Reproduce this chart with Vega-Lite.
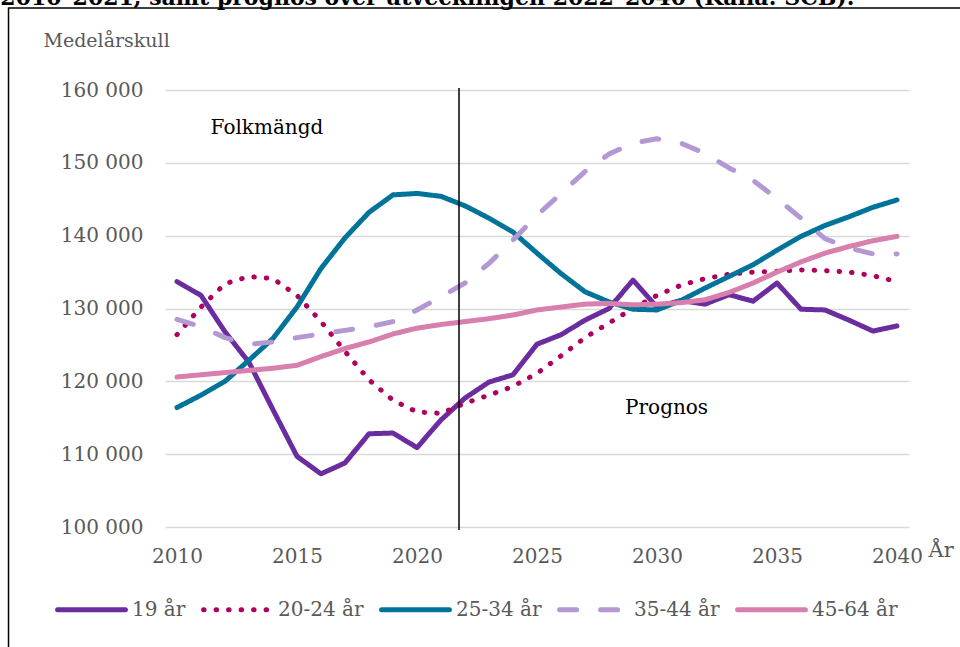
{
  "$schema": "https://vega.github.io/schema/vega-lite/v6.json",
  "width": 744,
  "height": 437,
  "autosize": {"type": "none"},
  "padding": {"left": 165, "top": 90, "right": 51, "bottom": 120},
  "background": "white",
  "config": {
    "view": {"stroke": null},
    "font": "DejaVu Serif",
    "axis": {"labelFont": "DejaVu Serif", "titleFont": "DejaVu Serif"}
  },
  "datasets": {
    "series": [
      {"year": 2010, "group": "19 år", "value": 133700},
      {"year": 2011, "group": "19 år", "value": 131800},
      {"year": 2012, "group": "19 år", "value": 126800},
      {"year": 2013, "group": "19 år", "value": 122600},
      {"year": 2014, "group": "19 år", "value": 116100},
      {"year": 2015, "group": "19 år", "value": 109700},
      {"year": 2016, "group": "19 år", "value": 107300},
      {"year": 2017, "group": "19 år", "value": 108800},
      {"year": 2018, "group": "19 år", "value": 112800},
      {"year": 2019, "group": "19 år", "value": 112900},
      {"year": 2020, "group": "19 år", "value": 110900},
      {"year": 2021, "group": "19 år", "value": 114700},
      {"year": 2022, "group": "19 år", "value": 117700},
      {"year": 2023, "group": "19 år", "value": 119900},
      {"year": 2024, "group": "19 år", "value": 120900},
      {"year": 2025, "group": "19 år", "value": 125100},
      {"year": 2026, "group": "19 år", "value": 126400},
      {"year": 2027, "group": "19 år", "value": 128400},
      {"year": 2028, "group": "19 år", "value": 130000},
      {"year": 2029, "group": "19 år", "value": 133900},
      {"year": 2030, "group": "19 år", "value": 130200},
      {"year": 2031, "group": "19 år", "value": 131100},
      {"year": 2032, "group": "19 år", "value": 130600},
      {"year": 2033, "group": "19 år", "value": 131900},
      {"year": 2034, "group": "19 år", "value": 131000},
      {"year": 2035, "group": "19 år", "value": 133500},
      {"year": 2036, "group": "19 år", "value": 129900},
      {"year": 2037, "group": "19 år", "value": 129800},
      {"year": 2038, "group": "19 år", "value": 128400},
      {"year": 2039, "group": "19 år", "value": 126900},
      {"year": 2040, "group": "19 år", "value": 127600},
      {"year": 2010, "group": "20-24 år", "value": 126400},
      {"year": 2011, "group": "20-24 år", "value": 130200},
      {"year": 2012, "group": "20-24 år", "value": 133400},
      {"year": 2013, "group": "20-24 år", "value": 134400},
      {"year": 2014, "group": "20-24 år", "value": 134100},
      {"year": 2015, "group": "20-24 år", "value": 131800},
      {"year": 2016, "group": "20-24 år", "value": 128200},
      {"year": 2017, "group": "20-24 år", "value": 124100},
      {"year": 2018, "group": "20-24 år", "value": 120200},
      {"year": 2019, "group": "20-24 år", "value": 117400},
      {"year": 2020, "group": "20-24 år", "value": 115800},
      {"year": 2021, "group": "20-24 år", "value": 115600},
      {"year": 2022, "group": "20-24 år", "value": 117000},
      {"year": 2023, "group": "20-24 år", "value": 118100},
      {"year": 2024, "group": "20-24 år", "value": 119300},
      {"year": 2025, "group": "20-24 år", "value": 121100},
      {"year": 2026, "group": "20-24 år", "value": 123500},
      {"year": 2027, "group": "20-24 år", "value": 126000},
      {"year": 2028, "group": "20-24 år", "value": 128000},
      {"year": 2029, "group": "20-24 år", "value": 130000},
      {"year": 2030, "group": "20-24 år", "value": 131800},
      {"year": 2031, "group": "20-24 år", "value": 133200},
      {"year": 2032, "group": "20-24 år", "value": 134100},
      {"year": 2033, "group": "20-24 år", "value": 134700},
      {"year": 2034, "group": "20-24 år", "value": 135000},
      {"year": 2035, "group": "20-24 år", "value": 135100},
      {"year": 2036, "group": "20-24 år", "value": 135300},
      {"year": 2037, "group": "20-24 år", "value": 135200},
      {"year": 2038, "group": "20-24 år", "value": 135000},
      {"year": 2039, "group": "20-24 år", "value": 134500},
      {"year": 2040, "group": "20-24 år", "value": 133700},
      {"year": 2010, "group": "25-34 år", "value": 116400},
      {"year": 2011, "group": "25-34 år", "value": 118100},
      {"year": 2012, "group": "25-34 år", "value": 120000},
      {"year": 2013, "group": "25-34 år", "value": 122900},
      {"year": 2014, "group": "25-34 år", "value": 125900},
      {"year": 2015, "group": "25-34 år", "value": 130200},
      {"year": 2016, "group": "25-34 år", "value": 135500},
      {"year": 2017, "group": "25-34 år", "value": 139700},
      {"year": 2018, "group": "25-34 år", "value": 143200},
      {"year": 2019, "group": "25-34 år", "value": 145600},
      {"year": 2020, "group": "25-34 år", "value": 145800},
      {"year": 2021, "group": "25-34 år", "value": 145400},
      {"year": 2022, "group": "25-34 år", "value": 144100},
      {"year": 2023, "group": "25-34 år", "value": 142400},
      {"year": 2024, "group": "25-34 år", "value": 140500},
      {"year": 2025, "group": "25-34 år", "value": 137600},
      {"year": 2026, "group": "25-34 år", "value": 134800},
      {"year": 2027, "group": "25-34 år", "value": 132300},
      {"year": 2028, "group": "25-34 år", "value": 130900},
      {"year": 2029, "group": "25-34 år", "value": 129900},
      {"year": 2030, "group": "25-34 år", "value": 129800},
      {"year": 2031, "group": "25-34 år", "value": 131100},
      {"year": 2032, "group": "25-34 år", "value": 132800},
      {"year": 2033, "group": "25-34 år", "value": 134400},
      {"year": 2034, "group": "25-34 år", "value": 136000},
      {"year": 2035, "group": "25-34 år", "value": 138000},
      {"year": 2036, "group": "25-34 år", "value": 139900},
      {"year": 2037, "group": "25-34 år", "value": 141400},
      {"year": 2038, "group": "25-34 år", "value": 142600},
      {"year": 2039, "group": "25-34 år", "value": 143900},
      {"year": 2040, "group": "25-34 år", "value": 144900},
      {"year": 2010, "group": "35-44 år", "value": 128500},
      {"year": 2011, "group": "35-44 år", "value": 127500},
      {"year": 2012, "group": "35-44 år", "value": 126000},
      {"year": 2013, "group": "35-44 år", "value": 125100},
      {"year": 2014, "group": "35-44 år", "value": 125400},
      {"year": 2015, "group": "35-44 år", "value": 126000},
      {"year": 2016, "group": "35-44 år", "value": 126500},
      {"year": 2017, "group": "35-44 år", "value": 127000},
      {"year": 2018, "group": "35-44 år", "value": 127500},
      {"year": 2019, "group": "35-44 år", "value": 128200},
      {"year": 2020, "group": "35-44 år", "value": 129800},
      {"year": 2021, "group": "35-44 år", "value": 131600},
      {"year": 2022, "group": "35-44 år", "value": 133500},
      {"year": 2023, "group": "35-44 år", "value": 136200},
      {"year": 2024, "group": "35-44 år", "value": 139400},
      {"year": 2025, "group": "35-44 år", "value": 142800},
      {"year": 2026, "group": "35-44 år", "value": 145800},
      {"year": 2027, "group": "35-44 år", "value": 148800},
      {"year": 2028, "group": "35-44 år", "value": 151200},
      {"year": 2029, "group": "35-44 år", "value": 152700},
      {"year": 2030, "group": "35-44 år", "value": 153300},
      {"year": 2031, "group": "35-44 år", "value": 152700},
      {"year": 2032, "group": "35-44 år", "value": 151300},
      {"year": 2033, "group": "35-44 år", "value": 149300},
      {"year": 2034, "group": "35-44 år", "value": 147600},
      {"year": 2035, "group": "35-44 år", "value": 145100},
      {"year": 2036, "group": "35-44 år", "value": 142400},
      {"year": 2037, "group": "35-44 år", "value": 139600},
      {"year": 2038, "group": "35-44 år", "value": 138300},
      {"year": 2039, "group": "35-44 år", "value": 137500},
      {"year": 2040, "group": "35-44 år", "value": 137500},
      {"year": 2010, "group": "45-64 år", "value": 120600},
      {"year": 2011, "group": "45-64 år", "value": 120900},
      {"year": 2012, "group": "45-64 år", "value": 121200},
      {"year": 2013, "group": "45-64 år", "value": 121500},
      {"year": 2014, "group": "45-64 år", "value": 121800},
      {"year": 2015, "group": "45-64 år", "value": 122200},
      {"year": 2016, "group": "45-64 år", "value": 123400},
      {"year": 2017, "group": "45-64 år", "value": 124500},
      {"year": 2018, "group": "45-64 år", "value": 125400},
      {"year": 2019, "group": "45-64 år", "value": 126500},
      {"year": 2020, "group": "45-64 år", "value": 127300},
      {"year": 2021, "group": "45-64 år", "value": 127800},
      {"year": 2022, "group": "45-64 år", "value": 128200},
      {"year": 2023, "group": "45-64 år", "value": 128600},
      {"year": 2024, "group": "45-64 år", "value": 129100},
      {"year": 2025, "group": "45-64 år", "value": 129800},
      {"year": 2026, "group": "45-64 år", "value": 130200},
      {"year": 2027, "group": "45-64 år", "value": 130600},
      {"year": 2028, "group": "45-64 år", "value": 130700},
      {"year": 2029, "group": "45-64 år", "value": 130500},
      {"year": 2030, "group": "45-64 år", "value": 130600},
      {"year": 2031, "group": "45-64 år", "value": 130800},
      {"year": 2032, "group": "45-64 år", "value": 131200},
      {"year": 2033, "group": "45-64 år", "value": 132200},
      {"year": 2034, "group": "45-64 år", "value": 133500},
      {"year": 2035, "group": "45-64 år", "value": 135000},
      {"year": 2036, "group": "45-64 år", "value": 136400},
      {"year": 2037, "group": "45-64 år", "value": 137600},
      {"year": 2038, "group": "45-64 år", "value": 138500},
      {"year": 2039, "group": "45-64 år", "value": 139300},
      {"year": 2040, "group": "45-64 år", "value": 139900}
    ],
    "notes": [
      {"year": 2011.4, "value": 154800, "label": "Folkmängd"},
      {"year": 2028.67, "value": 116300, "label": "Prognos"}
    ]
  },
  "layer": [
    {
      "data": {"values": [{}]},
      "mark": {"type": "rect", "fill": null, "stroke": "black", "strokeWidth": 1.5, "clip": false},
      "encoding": {
        "x": {"datum": 2002.98, "type": "quantitative", "scale": {"domain": [2009.5, 2040.5], "nice": false, "zero": false}},
        "x2": {"datum": 2046},
        "y": {"datum": 171260, "type": "quantitative", "scale": {"domain": [100000, 160000], "nice": false, "zero": false}},
        "y2": {"datum": 80000}
      }
    },
    {
      "data": {"values": [{}]},
      "mark": {"type": "text", "align": "left", "baseline": "alphabetic", "fontSize": 22, "fontWeight": "bold", "color": "black", "font": "DejaVu Serif", "clip": false},
      "encoding": {
        "x": {"datum": 2002.64, "type": "quantitative"},
        "y": {"datum": 171670, "type": "quantitative"},
        "text": {"value": "2010–2021, samt prognos över utvecklingen 2022–2040 (Källa: SCB)."}
      }
    },
    {
      "data": {"name": "series"},
      "mark": {"type": "line", "strokeWidth": 5, "strokeCap": "round", "strokeJoin": "round"},
      "encoding": {
        "x": {
          "field": "year", "type": "quantitative",
          "scale": {"domain": [2009.5, 2040.5], "nice": false, "zero": false},
          "axis": {
            "values": [2010, 2015, 2020, 2025, 2030, 2035, 2040],
            "format": "d",
            "grid": false, "domain": false, "ticks": false,
            "labelFontSize": 20, "labelColor": "#595959", "labelPadding": 19,
            "title": "År", "titleFontSize": 21, "titleFontWeight": "normal", "titleColor": "#595959",
            "titleAnchor": "start", "titleAlign": "left", "titleBaseline": "alphabetic",
            "titleX": 763, "titleY": 29
          }
        },
        "y": {
          "field": "value", "type": "quantitative",
          "scale": {"domain": [100000, 160000], "nice": false, "zero": false},
          "axis": {
            "values": [100000, 110000, 120000, 130000, 140000, 150000, 160000],
            "labelExpr": "replace(format(datum.value, ','), ',', ' ')",
            "grid": true, "gridColor": "#D9D9D9", "gridWidth": 1.5,
            "domain": false, "ticks": false,
            "labelFontSize": 20, "labelColor": "#595959", "labelPadding": 22,
            "title": "Medelårskull", "titleFontSize": 19, "titleFontWeight": "normal", "titleColor": "#595959",
            "titleAngle": 0, "titleAnchor": "start", "titleAlign": "left", "titleBaseline": "middle",
            "titleX": -122, "titleY": -50
          }
        },
        "color": {
          "field": "group", "type": "nominal",
          "scale": {
            "domain": ["19 år", "20-24 år", "25-34 år", "35-44 år", "45-64 år"],
            "range": ["#6A2C9F", "#B0005E", "#00739A", "#B398D3", "#D97FAD"]
          },
          "legend": {
            "title": null, "orient": "none", "direction": "horizontal",
            "legendX": -110, "legendY": 483,
            "symbolType": "stroke", "symbolSize": 4600, "symbolStrokeWidth": 5,
            "labelFontSize": 20, "labelColor": "#595959", "labelOffset": 4,
            "columnPadding": 7,
            "encode": {"symbols": {"update": {"strokeCap": {"value": "round"}}}}
          }
        },
        "strokeDash": {
          "field": "group", "type": "nominal",
          "scale": {
            "domain": ["19 år", "20-24 år", "25-34 år", "35-44 år", "45-64 år"],
            "range": [[1, 0], [0.5, 12], [1, 0], [17, 24], [1, 0]]
          },
          "legend": {
            "title": null, "orient": "none", "direction": "horizontal",
            "legendX": -110, "legendY": 483,
            "symbolType": "stroke", "symbolSize": 4600, "symbolStrokeWidth": 5,
            "labelFontSize": 20, "labelColor": "#595959", "labelOffset": 4,
            "columnPadding": 7,
            "encode": {"symbols": {"update": {"strokeCap": {"value": "round"}}}}
          }
        }
      }
    },
    {
      "data": {"values": [{}]},
      "mark": {"type": "rule", "color": "black", "strokeWidth": 1.5},
      "encoding": {
        "x": {"datum": 2021.75, "type": "quantitative"},
        "y": {"datum": 160270, "type": "quantitative"},
        "y2": {"datum": 99590}
      }
    },
    {
      "data": {"name": "notes"},
      "mark": {"type": "text", "align": "left", "baseline": "middle", "fontSize": 20, "color": "black", "font": "DejaVu Serif"},
      "encoding": {
        "x": {"field": "year", "type": "quantitative"},
        "y": {"field": "value", "type": "quantitative"},
        "text": {"field": "label"}
      }
    }
  ]
}
